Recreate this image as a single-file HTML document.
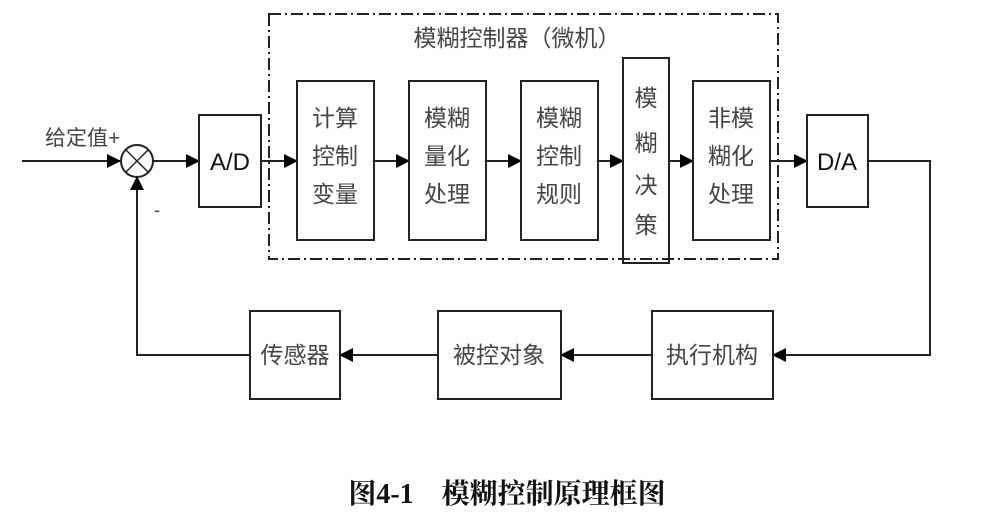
<!DOCTYPE html>
<html><head><meta charset="utf-8"><style>
body{margin:0;background:#fff;width:987px;height:521px;overflow:hidden}
text{font-family:"Liberation Sans","Noto Sans CJK SC",sans-serif;fill:#444}
.c{font-size:23px;text-anchor:middle}
</style></head><body>
<svg width="987" height="521" viewBox="0 0 987 521">
<defs><marker id="a" markerWidth="14" markerHeight="14" refX="13" refY="7" orient="auto" markerUnits="userSpaceOnUse"><path d="M0,0 L14,7 L0,14 Z" fill="#000"/></marker></defs>
<g stroke="#222" stroke-width="2" fill="none">
<rect x="269" y="14" width="509" height="245" stroke-dasharray="12,4,2,4" stroke-width="2"/>
<line x1="22" y1="161" x2="120" y2="161" marker-end="url(#a)"/>
<circle cx="137" cy="161" r="16"/>
<line x1="126" y1="150" x2="148" y2="172" stroke-width="1.5"/>
<line x1="148" y1="150" x2="126" y2="172" stroke-width="1.5"/>
<line x1="153" y1="161" x2="199" y2="161" marker-end="url(#a)"/>
<rect x="199" y="115" width="62" height="92"/>
<line x1="261" y1="161" x2="297" y2="161" marker-end="url(#a)"/>
<rect x="297" y="81" width="77" height="159"/>
<line x1="374" y1="161" x2="409" y2="161" marker-end="url(#a)"/>
<rect x="409" y="81" width="77" height="159"/>
<line x1="486" y1="161" x2="521" y2="161" marker-end="url(#a)"/>
<rect x="521" y="81" width="77" height="159"/>
<line x1="598" y1="161" x2="623" y2="161" marker-end="url(#a)"/>
<rect x="623" y="58" width="46" height="205"/>
<line x1="669" y1="161" x2="693" y2="161" marker-end="url(#a)"/>
<rect x="693" y="81" width="77" height="159"/>
<line x1="770" y1="161" x2="807" y2="161" marker-end="url(#a)"/>
<rect x="807" y="115" width="61" height="92"/>
<polyline points="868,161 930,161 930,355 773,355" marker-end="url(#a)"/>
<rect x="652" y="311" width="121" height="88"/>
<line x1="652" y1="355" x2="561" y2="355" marker-end="url(#a)"/>
<rect x="438" y="311" width="123" height="88"/>
<line x1="438" y1="355" x2="340" y2="355" marker-end="url(#a)"/>
<rect x="250" y="311" width="90" height="88"/>
<polyline points="250,355 137,355 137,177" marker-end="url(#a)"/>
</g>
<text x="45" y="145" font-size="21">给定值+</text>
<text x="154" y="216" font-size="18">-</text>
<text x="517" y="46" class="c">模糊控制器（微机）</text>
<text x="230" y="170" class="c" style="fill:#111;font-size:24px">A/D</text>
<text x="837" y="170" class="c" style="fill:#111;font-size:24px">D/A</text>
<text x="335" y="126" class="c">计算</text><text x="335" y="164" class="c">控制</text><text x="335" y="202" class="c">变量</text>
<text x="447" y="126" class="c">模糊</text><text x="447" y="164" class="c">量化</text><text x="447" y="202" class="c">处理</text>
<text x="559" y="126" class="c">模糊</text><text x="559" y="164" class="c">控制</text><text x="559" y="202" class="c">规则</text>
<text x="646" y="106" class="c">模</text><text x="646" y="151" class="c">糊</text><text x="646" y="193" class="c">决</text><text x="646" y="233" class="c">策</text>
<text x="731" y="126" class="c">非模</text><text x="731" y="164" class="c">糊化</text><text x="731" y="202" class="c">处理</text>
<text x="295" y="363" class="c">传感器</text>
<text x="499" y="363" class="c">被控对象</text>
<text x="712" y="363" class="c">执行机构</text>
<text x="507" y="503" text-anchor="middle" font-size="28" font-weight="bold" style="font-family:'Liberation Serif','Noto Serif CJK SC',serif;fill:#111">图4-1　模糊控制原理框图</text>
</svg>
</body></html>
